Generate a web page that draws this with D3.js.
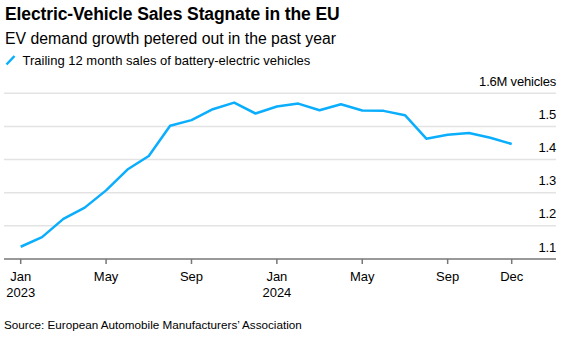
<!DOCTYPE html>
<html>
<head>
<meta charset="utf-8">
<script src="https://cdn.jsdelivr.net/npm/d3@7"></script>
<style>
  body { margin: 0; background: #fff; }
  svg text { font-family: "Liberation Sans", Arial, sans-serif; fill: #000; }
</style>
</head>
<body>
<svg id="chart" width="566" height="337"></svg>
<script>
// monthly trailing-12-month BEV sales, EU, millions
const months = ["Jan","Feb","Mar","Apr","May","Jun","Jul","Aug","Sep","Oct","Nov","Dec",
                "Jan","Feb","Mar","Apr","May","Jun","Jul","Aug","Sep","Oct","Nov","Dec"]
const years = [2023,2023,2023,2023,2023,2023,2023,2023,2023,2023,2023,2023,
               2024,2024,2024,2024,2024,2024,2024,2024,2024,2024,2024,2024]
const sales = [1.137, 1.166, 1.221, 1.255, 1.307, 1.370, 1.411, 1.502, 1.519, 1.552, 1.572, 1.539,
               1.560, 1.569, 1.549, 1.567, 1.548, 1.547, 1.534, 1.463, 1.475, 1.480, 1.466, 1.447]
const yTicks = [1.1, 1.2, 1.3, 1.4, 1.5, 1.6]
const xTicks = [0, 4, 8, 12, 16, 20, 23]

const svg = d3.select("#chart")
const blue = "#0aaefc"

var x = d3.scaleLinear().domain([0, 23]).range([20.7, 511.7])
var y = d3.scaleLinear().domain([1.1, 1.6]).range([259, 93.3])
var left = 4, right = 556

// titles
svg.append("text").attr("x", 5).attr("y", 20)
  .style("font-size", "17.5px").style("font-weight", "bold")
  .style("letter-spacing", "-0.12px")
  .text("Electric-Vehicle Sales Stagnate in the EU")
svg.append("text").attr("x", 5).attr("y", 43.5)
  .style("font-size", "15.8px")
  .text("EV demand growth petered out in the past year")

// legend
svg.append("line").attr("x1", 6.5).attr("y1", 64.5).attr("x2", 14.5).attr("y2", 56)
  .attr("stroke", blue).attr("stroke-width", 2.5)
svg.append("text").attr("x", 22.5).attr("y", 65)
  .style("font-size", "13px")
  .text("Trailing 12 month sales of battery-electric vehicles")

// gridlines
svg.append("g").selectAll("line")
  .data(yTicks.slice(1))
  .join("line")
    .attr("x1", left).attr("x2", right)
    .attr("y1", d => y(d)).attr("y2", d => y(d))
    .attr("stroke", "#e3e3e3").attr("stroke-width", 1.5)

// y labels, sitting above the gridlines
svg.append("g").selectAll("text")
  .data(yTicks)
  .join("text")
    .attr("x", right).attr("y", d => y(d) - 7.5)
    .attr("text-anchor", "end")
    .style("font-size", "13px")
    .style("letter-spacing", "-0.2px")
    .text(d => d == 1.6 ? "1.6M vehicles" : d3.format(".1f")(d))

// x axis
svg.append("line").attr("x1", left).attr("x2", right)
  .attr("y1", y(1.1)).attr("y2", y(1.1))
  .attr("stroke", "#777").attr("stroke-width", 1.5)
var tk = svg.append("g").selectAll("g")
  .data(xTicks)
  .join("g")
    .attr("transform", d => "translate(" + x(d) + "," + y(1.1) + ")")
tk.append("line").attr("y1", 0).attr("y2", 5).attr("stroke", "#777").attr("stroke-width", 1.5)
tk.append("text").attr("y", 22).attr("text-anchor", "middle")
  .style("font-size", "13px")
  .text(d => months[d])
tk.filter(d => months[d] == "Jan").append("text").attr("y", 38).attr("text-anchor", "middle")
  .style("font-size", "13px")
  .text(d => years[d])

// line
const line = d3.line()
  .x((d, i) => x(i))
  .y(d => y(d))
svg.append("path")
  .datum(sales)
  .attr("fill", "none")
  .attr("stroke", blue)
  .attr("stroke-width", 2.5)
  .attr("stroke-linejoin", "round")
  .attr("d", line)

// source
svg.append("text").attr("x", 4).attr("y", 328.5)
  .style("font-size", "11.7px")
  .text("Source: European Automobile Manufacturers\u2019 Association")
</script>
</body>
</html>
